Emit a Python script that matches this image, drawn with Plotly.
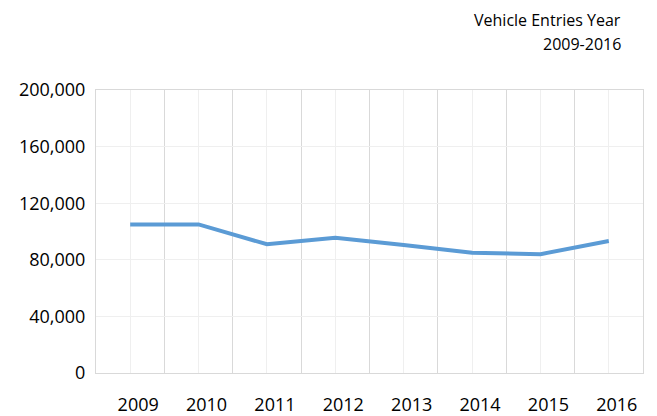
import plotly.graph_objects as go

years = ["2009", "2010", "2011", "2012", "2013", "2014", "2015", "2016"]
entries = [105000, 105000, 91000, 95500, 90500, 85000, 84000, 93300]
y_ticks = [0, 40000, 80000, 120000, 160000, 200000]
title_lines = ["Vehicle Entries Year", "2009-2016"]

idx = list(range(len(years)))
boundaries = [i - 0.5 for i in range(len(years) + 1)]

fig = go.Figure()
fig.add_trace(go.Scatter(
    x=idx, y=entries, mode="lines",
    line=dict(color="#5B9BD5", width=4),
    hoverinfo="skip", showlegend=False,
))

font_family = "Open Sans, Noto Sans, sans-serif"

# page body has an 8px default margin, so the figure is sized to fit
fig.update_layout(
    width=649, height=408,
    margin=dict(l=88, r=14, t=82, b=43),
    paper_bgcolor="white", plot_bgcolor="white",
    font=dict(family=font_family, color="#000000"),
    xaxis=dict(
        range=[-0.5, len(years) - 0.5],
        tickmode="array", tickvals=idx, ticktext=years,
        showgrid=True, gridcolor="#EFEFEF", gridwidth=1,
        minor=dict(tickmode="array", tickvals=boundaries, showgrid=True,
                   gridcolor="#D9D9D9", gridwidth=1),
        zeroline=False, showline=True, linecolor="#D9D9D9", linewidth=1, mirror=True,
        tickfont=dict(size=18, color="#000000"),
        ticklabelshift=8, ticklabelstandoff=15,
        automargin=False,
        fixedrange=True,
    ),
    yaxis=dict(
        range=[0, 200000],
        tickmode="array", tickvals=y_ticks,
        tickformat=",",
        showgrid=True, gridcolor="#EFEFEF", gridwidth=1,
        zeroline=False, showline=True, linecolor="#D9D9D9", linewidth=1, mirror=True,
        tickfont=dict(size=18, color="#000000"),
        ticklabelstandoff=6,
        automargin=False,
        fixedrange=True,
    ),
)

fig.add_annotation(
    text=title_lines[0], xref="paper", yref="paper", x=1, y=1,
    xanchor="right", yanchor="middle", xshift=-20, yshift=70,
    showarrow=False, font=dict(size=16, color="#000000", family=font_family),
)
fig.add_annotation(
    text=title_lines[1], xref="paper", yref="paper", x=1, y=1,
    xanchor="right", yanchor="middle", xshift=-20, yshift=46,
    showarrow=False, font=dict(size=16, color="#000000", family=font_family),
)

fig.write_html("out.html")
